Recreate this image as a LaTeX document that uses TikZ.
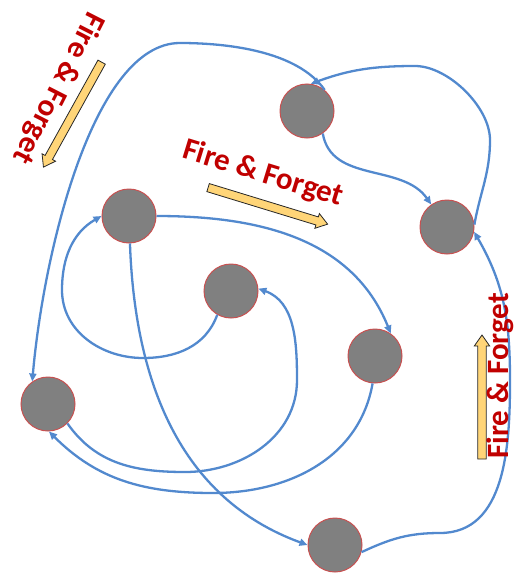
\documentclass[tikz,border=0pt]{standalone}
\usepackage{fontspec}
\setmainfont{Carlito}
\usetikzlibrary{arrows.meta,shapes.arrows}
\definecolor{flowblue}{RGB}{82,137,206}
\definecolor{ffred}{RGB}{192,0,0}
\definecolor{ffyellow}{RGB}{255,213,120}
\definecolor{tokgray}{RGB}{128,128,128}
\definecolor{tokrim}{RGB}{200,80,80}

\begin{document}
\begin{tikzpicture}[
  x=1pt, y=1pt, >={Triangle[length=8pt,width=7pt]},
  tok/.style={circle, draw=tokrim, line width=1pt, fill=tokgray,
              minimum size=54pt, inner sep=0pt},
  flow/.style={->, draw=flowblue, line width=2.3pt},
  ffnote/.style={font=\fontsize{31}{33}\selectfont\bfseries, text=ffred,
                 inner sep=0pt},
  ffarrow/.style={single arrow, draw=black!85, line width=0.8pt,
                  fill=ffyellow, inner sep=3.8pt, single arrow head extend=3.5pt,
                  single arrow tip angle=70, minimum height=#1},
]
\useasboundingbox (0,0) rectangle (516,-573);

% tokens
\node[tok] (A) at (307,-111) {};
\node[tok] (B) at (447,-227) {};
\node[tok] (C) at (129,-216) {};
\node[tok] (D) at (231,-291) {};
\node[tok] (E) at (375,-356) {};
\node[tok] (F) at (48,-404) {};
\node[tok] (G) at (335,-545) {};

% flows
\draw[flow] (A.50) to[out=125,in=0,looseness=0.8] (180,-43)
  to[out=180,in=85,out looseness=0.6,in looseness=0.9] (F.125);
\draw[flow] (B.5) to[out=80,in=-90] (490,-140)
  to[out=90,in=0,looseness=0.8] (415,-66) to[out=180,in=20] (A.82);
\draw[flow] (A.-55) to[out=-80,in=125] (B.125);
\draw[flow] (G.-15) to[out=25,in=180] (440,-533)
  to[out=0,in=-90] (510,-380) to[out=90,in=-60] (B.-10);
\draw[flow] (C.0) to[out=0,in=112] (E.55);
\draw[flow] (C.-88) to[out=-88,in=160] (G.180);
\draw[flow] (D.-120) to[out=-110,in=0] (143,-358)
  to[out=180,in=-90] (62,-290) to[out=90,in=-150] (C.180);
\draw[flow] (F.-45) to[out=-55,in=180] (185,-472)
  to[out=0,in=-90] (297,-380) to[out=90,in=-20] (D.5);
\draw[flow] (E.-95) to[out=-100,in=0] (213,-493)
  to[out=180,in=-45] (F.-88);

% fire and forget notes
\node[ffarrow=120, rotate=241] (ar1) at (74,-112) {};
\node[ffarrow=125, rotate=-17] (ar2) at (265,-205) {};
\node[ffarrow=124, rotate=90] (ar3) at (482,-400) {};
\node[ffnote, rotate=243] (ff1) at (58,-88) {Fire \& Forget};
\node[ffnote, rotate=-17] (ff2) at (263,-174) {Fire \& Forget};
\node[ffnote, rotate=90] (ff3) at (500,-376) {Fire \& Forget};
\end{tikzpicture}
\end{document}
